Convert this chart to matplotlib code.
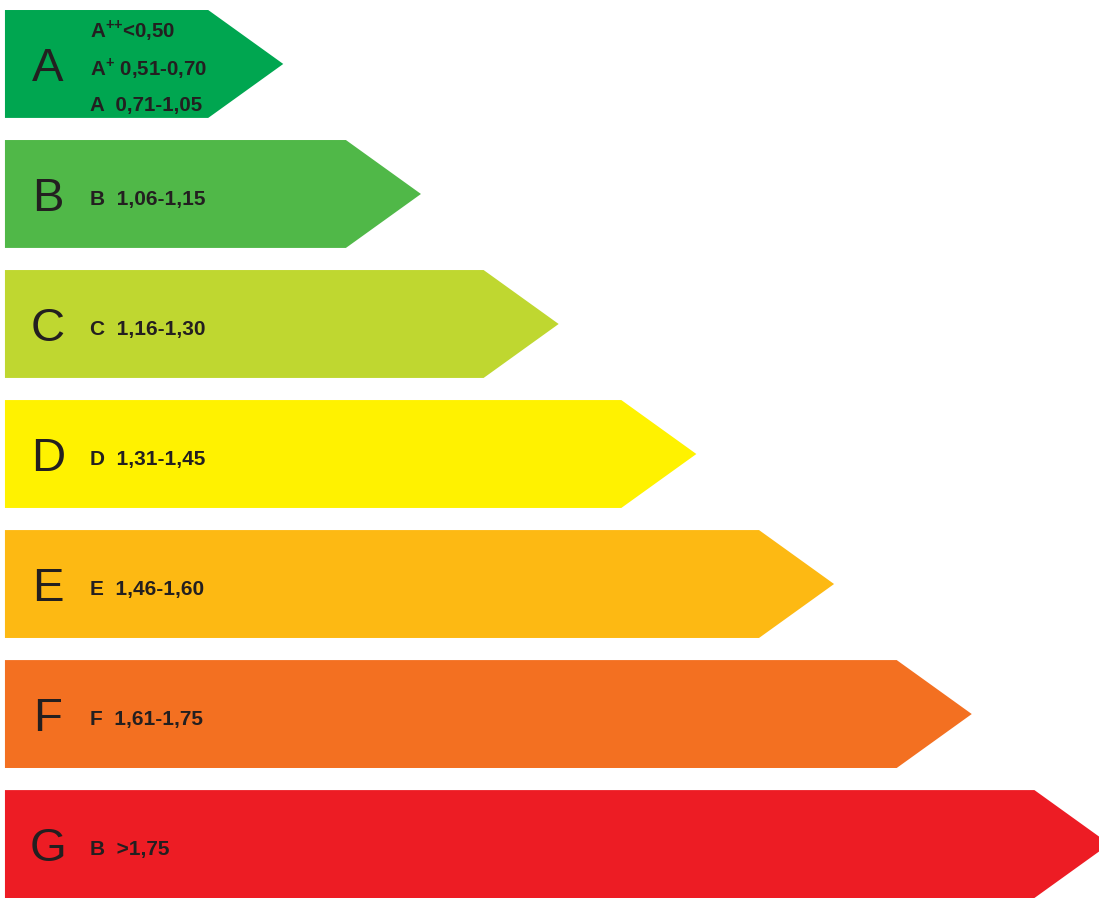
import matplotlib.pyplot as plt
from matplotlib.patches import Polygon

plt.rcParams['font.family'] = ['Liberation Sans', 'DejaVu Sans']
plt.rcParams['mathtext.fontset'] = 'custom'
plt.rcParams['mathtext.rm'] = 'Liberation Sans:bold'
plt.rcParams['mathtext.bf'] = 'Liberation Sans:bold'

classes = ['A', 'B', 'C', 'D', 'E', 'F', 'G']
lengths = [1, 2, 3, 4, 5, 6, 7]
ranges = [
    ['A$^{{+}{+}}$<0,50', 'A$^{+}$ 0,51-0,70', 'A  0,71-1,05'],
    ['B  1,06-1,15'],
    ['C  1,16-1,30'],
    ['D  1,31-1,45'],
    ['E  1,46-1,60'],
    ['F  1,61-1,75'],
    ['B  >1,75'],
]
colors = ['#00a650', '#50b848', '#bfd730', '#fff200', '#fdb913', '#f37021', '#ed1c24']

fig = plt.figure(figsize=(10.99, 8.98), dpi=100)
ax = fig.add_axes([0, 0, 1, 1])
ax.set_xlim(-0.512, 7.469)
ax.set_ylim(6.415, -0.492)
ax.axis('off')

left = -0.476
half = 0.415
tip = 0.545
txt = '#231f20'

for i, (c, v, col) in enumerate(zip(classes, lengths, colors)):
    pts = [(left, i - half), (v, i - half), (v + tip, i), (v, i + half), (left, i + half)]
    ax.add_patch(Polygon(pts, closed=True, facecolor=col, edgecolor='none'))
    ax.text(-0.163, i + 0.035, c, fontsize=34, color=txt, ha='center', va='center')
    lines = ranges[i]
    if len(lines) == 1:
        ax.text(0.142, i + 0.04, lines[0], fontsize=15, fontweight='bold',
                color=txt, ha='left', va='center')
    else:
        for off, s in zip([-0.26, 0.035, 0.32], lines):
            ax.text(0.142, i + off, s, fontsize=14.8, fontweight='bold',
                    color=txt, ha='left', va='center')

fig.savefig('out.png', dpi=100)
